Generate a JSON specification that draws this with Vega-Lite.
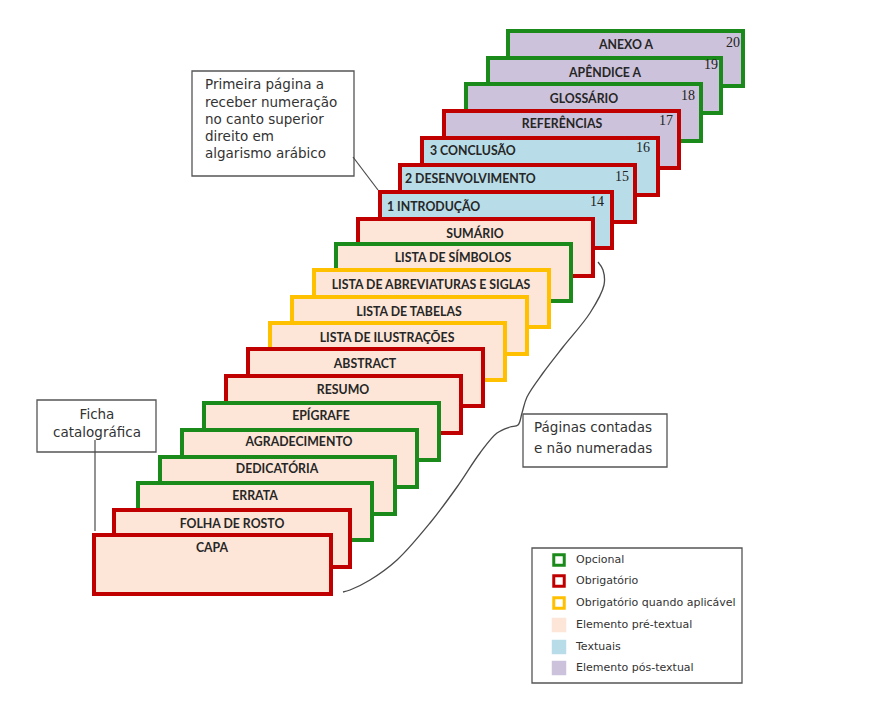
{
  "$schema": "https://vega.github.io/schema/vega-lite/v6.json",
  "width": 882,
  "height": 706,
  "padding": 0,
  "autosize": {"type": "none"},
  "background": "white",
  "config": {"view": {"stroke": null}},
  "datasets": {
    "paginas": [
      {"nome": "ANEXO A", "req": "Opcional", "secao": "Elemento pós-textual", "x0": 508, "x1": 743, "y0": 31, "y1": 86, "lx": 626, "ly": 45, "num": "20", "nx": 733, "ny": 43},
      {"nome": "APÊNDICE A", "req": "Opcional", "secao": "Elemento pós-textual", "x0": 488, "x1": 721, "y0": 58, "y1": 113, "lx": 605, "ly": 73, "num": "19", "nx": 711, "ny": 65},
      {"nome": "GLOSSÁRIO", "req": "Opcional", "secao": "Elemento pós-textual", "x0": 466, "x1": 701, "y0": 84, "y1": 141, "lx": 584, "ly": 99, "num": "18", "nx": 688, "ny": 96},
      {"nome": "REFERÊNCIAS", "req": "Obrigatório", "secao": "Elemento pós-textual", "x0": 444, "x1": 679, "y0": 111, "y1": 168, "lx": 562, "ly": 124, "num": "17", "nx": 666, "ny": 121},
      {"nome": "3 CONCLUSÃO", "req": "Obrigatório", "secao": "Textuais", "x0": 422, "x1": 658, "y0": 138, "y1": 195, "lx": 430, "ly": 151, "num": "16", "nx": 643, "ny": 148},
      {"nome": "2 DESENVOLVIMENTO", "req": "Obrigatório", "secao": "Textuais", "x0": 400, "x1": 635, "y0": 165, "y1": 222, "lx": 405, "ly": 179, "num": "15", "nx": 622, "ny": 177},
      {"nome": "1 INTRODUÇÃO", "req": "Obrigatório", "secao": "Textuais", "x0": 380, "x1": 612, "y0": 192, "y1": 248, "lx": 387, "ly": 207, "num": "14", "nx": 597, "ny": 202},
      {"nome": "SUMÁRIO", "req": "Obrigatório", "secao": "Elemento pré-textual", "x0": 358, "x1": 593, "y0": 219, "y1": 276, "lx": 475, "ly": 234, "num": null, "nx": null, "ny": null},
      {"nome": "LISTA DE SÍMBOLOS", "req": "Opcional", "secao": "Elemento pré-textual", "x0": 336, "x1": 571, "y0": 244, "y1": 301, "lx": 453, "ly": 258, "num": null, "nx": null, "ny": null},
      {"nome": "LISTA DE ABREVIATURAS E SIGLAS", "req": "Obrigatório quando aplicável", "secao": "Elemento pré-textual", "x0": 314, "x1": 549, "y0": 270, "y1": 327, "lx": 431, "ly": 285, "num": null, "nx": null, "ny": null},
      {"nome": "LISTA DE TABELAS", "req": "Obrigatório quando aplicável", "secao": "Elemento pré-textual", "x0": 292, "x1": 527, "y0": 297, "y1": 354, "lx": 409, "ly": 312, "num": null, "nx": null, "ny": null},
      {"nome": "LISTA DE ILUSTRAÇÕES", "req": "Obrigatório quando aplicável", "secao": "Elemento pré-textual", "x0": 270, "x1": 505, "y0": 323, "y1": 380, "lx": 387, "ly": 338, "num": null, "nx": null, "ny": null},
      {"nome": "ABSTRACT", "req": "Obrigatório", "secao": "Elemento pré-textual", "x0": 248, "x1": 483, "y0": 349, "y1": 406, "lx": 365, "ly": 364, "num": null, "nx": null, "ny": null},
      {"nome": "RESUMO", "req": "Obrigatório", "secao": "Elemento pré-textual", "x0": 226, "x1": 461, "y0": 376, "y1": 433, "lx": 343, "ly": 390, "num": null, "nx": null, "ny": null},
      {"nome": "EPÍGRAFE", "req": "Opcional", "secao": "Elemento pré-textual", "x0": 204, "x1": 439, "y0": 403, "y1": 460, "lx": 321, "ly": 416, "num": null, "nx": null, "ny": null},
      {"nome": "AGRADECIMENTO", "req": "Opcional", "secao": "Elemento pré-textual", "x0": 182, "x1": 417, "y0": 430, "y1": 487, "lx": 299, "ly": 442, "num": null, "nx": null, "ny": null},
      {"nome": "DEDICATÓRIA", "req": "Opcional", "secao": "Elemento pré-textual", "x0": 160, "x1": 395, "y0": 457, "y1": 514, "lx": 277, "ly": 469, "num": null, "nx": null, "ny": null},
      {"nome": "ERRATA", "req": "Opcional", "secao": "Elemento pré-textual", "x0": 138, "x1": 372, "y0": 483, "y1": 540, "lx": 255, "ly": 496, "num": null, "nx": null, "ny": null},
      {"nome": "FOLHA DE ROSTO", "req": "Obrigatório", "secao": "Elemento pré-textual", "x0": 114, "x1": 350, "y0": 510, "y1": 567, "lx": 232, "ly": 524, "num": null, "nx": null, "ny": null},
      {"nome": "CAPA", "req": "Obrigatório", "secao": "Elemento pré-textual", "x0": 94, "x1": 331, "y0": 535, "y1": 594, "lx": 212, "ly": 548, "num": null, "nx": null, "ny": null}
    ],
    "caixas": [
      {"caixa": "numeracao", "x0": 192, "x1": 354, "y0": 71, "y1": 176},
      {"caixa": "ficha", "x0": 37, "x1": 156, "y0": 400, "y1": 452},
      {"caixa": "contadas", "x0": 523, "x1": 667, "y0": 414, "y1": 467},
      {"caixa": "legenda", "x0": 532, "x1": 742, "y0": 548, "y1": 683}
    ],
    "linhas": [
      {"x0": 353, "y0": 157, "x1": 378, "y1": 190},
      {"x0": 95, "y0": 440, "x1": 95, "y1": 531}
    ],
    "chave": [
      {"ord": 1, "x": 598, "y": 262},
      {"ord": 2, "x": 603, "y": 270},
      {"ord": 3, "x": 604, "y": 285},
      {"ord": 4, "x": 590, "y": 313},
      {"ord": 5, "x": 563, "y": 347},
      {"ord": 6, "x": 543, "y": 373},
      {"ord": 7, "x": 527, "y": 397},
      {"ord": 8, "x": 522, "y": 413},
      {"ord": 9, "x": 518, "y": 425},
      {"ord": 10, "x": 510, "y": 427},
      {"ord": 11, "x": 497, "y": 433},
      {"ord": 12, "x": 480, "y": 453},
      {"ord": 13, "x": 457, "y": 487},
      {"ord": 14, "x": 430, "y": 523},
      {"ord": 15, "x": 397, "y": 560},
      {"ord": 16, "x": 370, "y": 580},
      {"ord": 17, "x": 350, "y": 590},
      {"ord": 18, "x": 343, "y": 592}
    ],
    "textos": [
      {"t": "Primeira  página a", "x": 205, "y": 85},
      {"t": "receber numeração", "x": 205, "y": 103},
      {"t": "no canto  superior", "x": 205, "y": 120},
      {"t": "direito  em", "x": 205, "y": 137},
      {"t": "algarismo arábico", "x": 205, "y": 154},
      {"t": "Páginas contadas", "x": 534, "y": 428},
      {"t": "e não numeradas", "x": 534, "y": 449}
    ],
    "textosCentro": [
      {"t": "Ficha", "x": 97, "y": 415},
      {"t": "catalográfica", "x": 97, "y": 433}
    ],
    "legStroke": [
      {"req": "Opcional", "x": 559, "y": 560},
      {"req": "Obrigatório", "x": 559, "y": 581},
      {"req": "Obrigatório quando aplicável", "x": 559, "y": 603}
    ],
    "legFill": [
      {"secao": "Elemento pré-textual", "x": 559, "y": 625},
      {"secao": "Textuais", "x": 559, "y": 647},
      {"secao": "Elemento pós-textual", "x": 559, "y": 668}
    ],
    "legTexto": [
      {"t": "Opcional", "x": 576, "y": 560},
      {"t": "Obrigatório", "x": 576, "y": 581},
      {"t": "Obrigatório quando aplicável", "x": 576, "y": 603},
      {"t": "Elemento pré-textual", "x": 576, "y": 625},
      {"t": "Textuais", "x": 576, "y": 647},
      {"t": "Elemento pós-textual", "x": 576, "y": 668}
    ]
  },
  "layer": [
    {
      "data": {"name": "paginas"},
      "mark": {"type": "rect", "strokeWidth": 4, "strokeJoin": "miter"},
      "encoding": {
        "x": {"field": "x0", "type": "quantitative", "scale": {"domain": [0, 882], "nice": false, "zero": false}, "axis": null},
        "x2": {"field": "x1"},
        "y": {"field": "y0", "type": "quantitative", "scale": {"domain": [0, 706], "nice": false, "zero": false, "reverse": true}, "axis": null},
        "y2": {"field": "y1"},
        "stroke": {"field": "req", "type": "nominal", "legend": null, "scale": {"domain": ["Opcional", "Obrigatório", "Obrigatório quando aplicável"], "range": ["#1a8a1a", "#c00000", "#ffc000"]}},
        "fill": {"field": "secao", "type": "nominal", "legend": null, "scale": {"domain": ["Elemento pré-textual", "Textuais", "Elemento pós-textual"], "range": ["#fde6d8", "#b8dde8", "#cdc2db"]}}
      }
    },
    {
      "data": {"name": "paginas"},
      "transform": [{"filter": "datum.secao != 'Textuais'"}],
      "mark": {"type": "text", "font": "Lato", "fontWeight": "bold", "fontSize": 12.3, "align": "center", "baseline": "middle", "color": "#262626"},
      "encoding": {
        "x": {"field": "lx", "type": "quantitative", "scale": {"domain": [0, 882], "nice": false, "zero": false}, "axis": null},
        "y": {"field": "ly", "type": "quantitative", "scale": {"domain": [0, 706], "nice": false, "zero": false, "reverse": true}, "axis": null},
        "text": {"field": "nome"}
      }
    },
    {
      "data": {"name": "paginas"},
      "transform": [{"filter": "datum.secao == 'Textuais'"}],
      "mark": {"type": "text", "font": "Lato", "fontWeight": "bold", "fontSize": 12.3, "align": "left", "baseline": "middle", "color": "#262626"},
      "encoding": {
        "x": {"field": "lx", "type": "quantitative", "scale": {"domain": [0, 882], "nice": false, "zero": false}, "axis": null},
        "y": {"field": "ly", "type": "quantitative", "scale": {"domain": [0, 706], "nice": false, "zero": false, "reverse": true}, "axis": null},
        "text": {"field": "nome"}
      }
    },
    {
      "data": {"name": "paginas"},
      "transform": [{"filter": "datum.num != null"}],
      "mark": {"type": "text", "font": "Liberation Serif", "fontSize": 14, "align": "center", "baseline": "middle", "color": "#222222"},
      "encoding": {
        "x": {"field": "nx", "type": "quantitative", "scale": {"domain": [0, 882], "nice": false, "zero": false}, "axis": null},
        "y": {"field": "ny", "type": "quantitative", "scale": {"domain": [0, 706], "nice": false, "zero": false, "reverse": true}, "axis": null},
        "text": {"field": "num"}
      }
    },
    {
      "data": {"name": "chave"},
      "mark": {"type": "line", "interpolate": "catmull-rom", "color": "#4a4a4a", "strokeWidth": 1.3},
      "encoding": {
        "x": {"field": "x", "type": "quantitative", "scale": {"domain": [0, 882], "nice": false, "zero": false}, "axis": null},
        "y": {"field": "y", "type": "quantitative", "scale": {"domain": [0, 706], "nice": false, "zero": false, "reverse": true}, "axis": null},
        "order": {"field": "ord", "type": "quantitative"}
      }
    },
    {
      "data": {"name": "caixas"},
      "mark": {"type": "rect", "fill": "white", "stroke": "#555555", "strokeWidth": 1.3},
      "encoding": {
        "x": {"field": "x0", "type": "quantitative", "scale": {"domain": [0, 882], "nice": false, "zero": false}, "axis": null},
        "x2": {"field": "x1"},
        "y": {"field": "y0", "type": "quantitative", "scale": {"domain": [0, 706], "nice": false, "zero": false, "reverse": true}, "axis": null},
        "y2": {"field": "y1"}
      }
    },
    {
      "data": {"name": "linhas"},
      "mark": {"type": "rule", "color": "#4a4a4a", "strokeWidth": 1.2},
      "encoding": {
        "x": {"field": "x0", "type": "quantitative", "scale": {"domain": [0, 882], "nice": false, "zero": false}, "axis": null},
        "x2": {"field": "x1"},
        "y": {"field": "y0", "type": "quantitative", "scale": {"domain": [0, 706], "nice": false, "zero": false, "reverse": true}, "axis": null},
        "y2": {"field": "y1"}
      }
    },
    {
      "data": {"name": "textos"},
      "mark": {"type": "text", "font": "DejaVu Sans", "fontSize": 13.5, "align": "left", "baseline": "middle", "color": "#333333"},
      "encoding": {
        "x": {"field": "x", "type": "quantitative", "scale": {"domain": [0, 882], "nice": false, "zero": false}, "axis": null},
        "y": {"field": "y", "type": "quantitative", "scale": {"domain": [0, 706], "nice": false, "zero": false, "reverse": true}, "axis": null},
        "text": {"field": "t"}
      }
    },
    {
      "data": {"name": "textosCentro"},
      "mark": {"type": "text", "font": "DejaVu Sans", "fontSize": 13.5, "align": "center", "baseline": "middle", "color": "#333333"},
      "encoding": {
        "x": {"field": "x", "type": "quantitative", "scale": {"domain": [0, 882], "nice": false, "zero": false}, "axis": null},
        "y": {"field": "y", "type": "quantitative", "scale": {"domain": [0, 706], "nice": false, "zero": false, "reverse": true}, "axis": null},
        "text": {"field": "t"}
      }
    },
    {
      "data": {"name": "legStroke"},
      "mark": {"type": "point", "shape": "square", "size": 110, "fill": "white", "filled": false, "strokeWidth": 3, "opacity": 1},
      "encoding": {
        "x": {"field": "x", "type": "quantitative", "scale": {"domain": [0, 882], "nice": false, "zero": false}, "axis": null},
        "y": {"field": "y", "type": "quantitative", "scale": {"domain": [0, 706], "nice": false, "zero": false, "reverse": true}, "axis": null},
        "stroke": {"field": "req", "type": "nominal", "legend": null, "scale": {"domain": ["Opcional", "Obrigatório", "Obrigatório quando aplicável"], "range": ["#1a8a1a", "#c00000", "#ffc000"]}}
      }
    },
    {
      "data": {"name": "legFill"},
      "mark": {"type": "point", "shape": "square", "size": 210, "filled": true, "strokeWidth": 0, "opacity": 1},
      "encoding": {
        "x": {"field": "x", "type": "quantitative", "scale": {"domain": [0, 882], "nice": false, "zero": false}, "axis": null},
        "y": {"field": "y", "type": "quantitative", "scale": {"domain": [0, 706], "nice": false, "zero": false, "reverse": true}, "axis": null},
        "fill": {"field": "secao", "type": "nominal", "legend": null, "scale": {"domain": ["Elemento pré-textual", "Textuais", "Elemento pós-textual"], "range": ["#fde6d8", "#b8dde8", "#cdc2db"]}}
      }
    },
    {
      "data": {"name": "legTexto"},
      "mark": {"type": "text", "font": "DejaVu Sans", "fontSize": 11, "align": "left", "baseline": "middle", "color": "#333333"},
      "encoding": {
        "x": {"field": "x", "type": "quantitative", "scale": {"domain": [0, 882], "nice": false, "zero": false}, "axis": null},
        "y": {"field": "y", "type": "quantitative", "scale": {"domain": [0, 706], "nice": false, "zero": false, "reverse": true}, "axis": null},
        "text": {"field": "t"}
      }
    }
  ]
}
